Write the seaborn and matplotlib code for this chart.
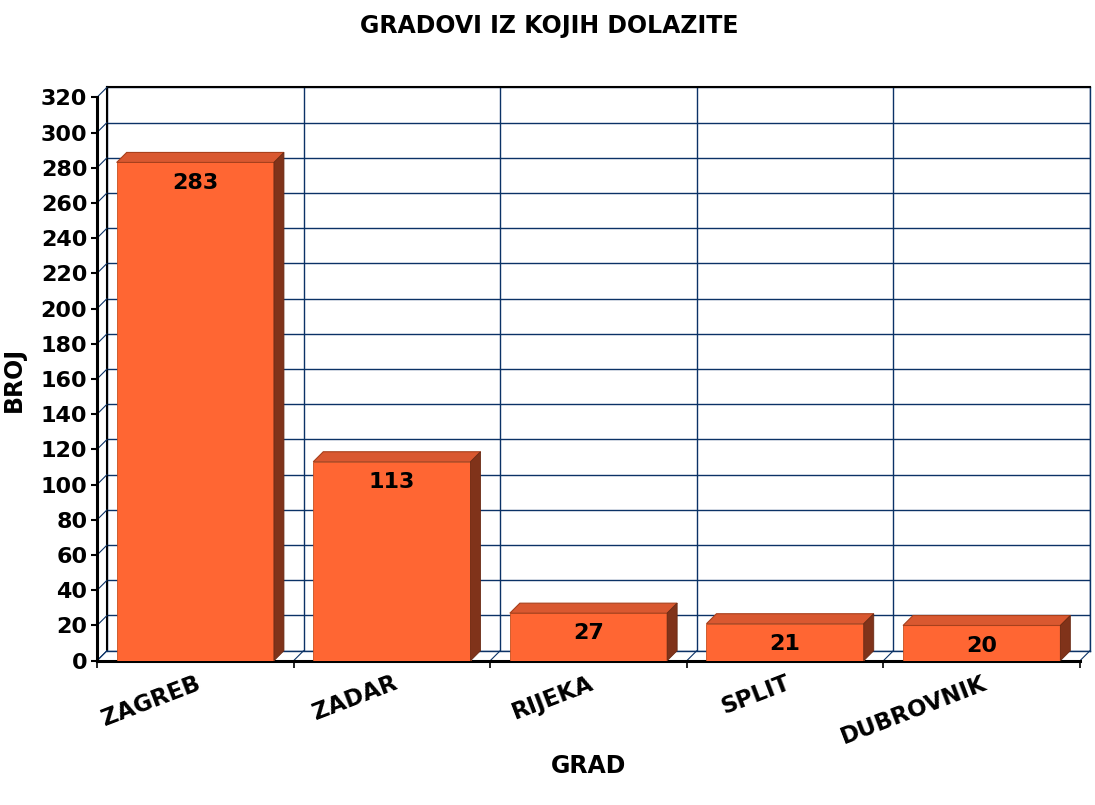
import numpy as np
import pandas as pd
import seaborn as sns
import matplotlib.pyplot as plt
from matplotlib.patches import Polygon

cities = ['ZAGREB', 'ZADAR', 'RIJEKA', 'SPLIT', 'DUBROVNIK']
counts = [283, 113, 27, 21, 20]
yticks = list(range(0, 321, 20))

sns.set_style('white')
plt.rcParams['font.family'] = ['DejaVu Sans']
plt.rcParams['text.color'] = 'black'
plt.rcParams['axes.labelcolor'] = 'black'
plt.rcParams['xtick.color'] = 'black'
plt.rcParams['ytick.color'] = 'black'

W, H = 1095, 805
fig = plt.figure(figsize=(W / 100, H / 100), dpi=100)

# front plane (bars, axes) and back wall shifted up/right for the 3d look
left, bottom, width, height = 97 / W, 144.3 / H, 983 / W, 563.4 / H
depth = 10  # px
navy = '#0b3266'

back = fig.add_axes([left + depth / W, bottom + depth / H, width, height], zorder=0)
back.set_xlim(-0.5, len(cities) - 0.5)
back.set_ylim(0, 320)
back.set_yticks(yticks)
back.set_xticks(np.arange(len(cities) + 1) - 0.5)
back.grid(True, color=navy, lw=1)
back.tick_params(length=0, labelleft=False, labelbottom=False)
for s in ['top', 'left']:
    back.spines[s].set_color('black')
    back.spines[s].set_linewidth(1.5)
for s in ['right', 'bottom']:
    back.spines[s].set_color(navy)
    back.spines[s].set_linewidth(1)
back.set_facecolor('white')

ax = fig.add_axes([left, bottom, width, height], zorder=1)
ax.patch.set_alpha(0)
df = pd.DataFrame({'GRAD': cities, 'BROJ': counts})
sns.barplot(data=df, x='GRAD', y='BROJ', color='#ff6633', saturation=1,
            width=0.8, ax=ax, zorder=3, edgecolor='#c8501f', linewidth=0.6)
ax.set_xlim(-0.5, len(cities) - 0.5)
ax.set_ylim(0, 320)

# depth in data units
dx = depth / (width * W) * len(cities)
dy = depth / (height * H) * 320

for p in ax.patches:
    x0, w, h = p.get_x(), p.get_width(), p.get_height()
    top = Polygon([(x0, h), (x0 + w, h), (x0 + w + dx, h + dy), (x0 + dx, h + dy)],
                  closed=True, facecolor='#d95830', edgecolor='#a8401c', lw=0.8, zorder=3)
    side = Polygon([(x0 + w, 0), (x0 + w + dx, dy), (x0 + w + dx, h + dy), (x0 + w, h)],
                   closed=True, facecolor='#80331a', edgecolor='#6a2a14', lw=0.6, zorder=3)
    ax.add_patch(top)
    ax.add_patch(side)
    ax.annotate(f'{int(h)}', xy=(x0 + w / 2, h), xytext=(0, -14.5), textcoords='offset points',
                ha='center', va='center', fontsize=16, fontweight='bold', zorder=5)

# floor and side wall diagonals
for b in np.arange(len(cities) + 1) - 0.5:
    ax.plot([b, b + dx], [0, dy], color=navy, lw=0.8, zorder=1, clip_on=False)
for t in yticks:
    ax.plot([-0.5, -0.5 + dx], [t, t + dy], color=navy, lw=0.8, zorder=1, clip_on=False)

sns.despine(ax=ax, top=True, right=True)
ax.spines['left'].set_linewidth(2.2)
ax.spines['bottom'].set_linewidth(2.2)
ax.spines['left'].set_color('black')
ax.spines['bottom'].set_color('black')

ax.set_yticks(yticks)
ax.set_yticklabels([str(t) for t in yticks], fontsize=16, fontweight='bold')
ax.tick_params(axis='y', direction='out', length=4, width=1.5, left=True, pad=3)
ax.set_xticks(range(len(cities)))
ax.set_xticklabels(cities, fontsize=16.5, fontweight='bold', rotation=21,
                   ha='right', rotation_mode='anchor')
ax.tick_params(axis='x', which='major', length=0, pad=8)
ax.set_xticks(np.arange(len(cities) + 1) - 0.5, minor=True)
ax.tick_params(axis='x', which='minor', direction='out', length=5, width=1.2, bottom=True)

ax.set_xlabel('GRAD', fontsize=17, fontweight='bold')
ax.set_ylabel('BROJ', fontsize=17, fontweight='bold')
ax.xaxis.set_label_coords(0.5, -0.165)
ax.yaxis.set_label_coords(-0.072, 0.5)

fig.suptitle('GRADOVI IZ KOJIH DOLAZITE', x=0.502, y=0.982, fontsize=17, fontweight='bold')

fig.savefig('out.png', dpi=100)
